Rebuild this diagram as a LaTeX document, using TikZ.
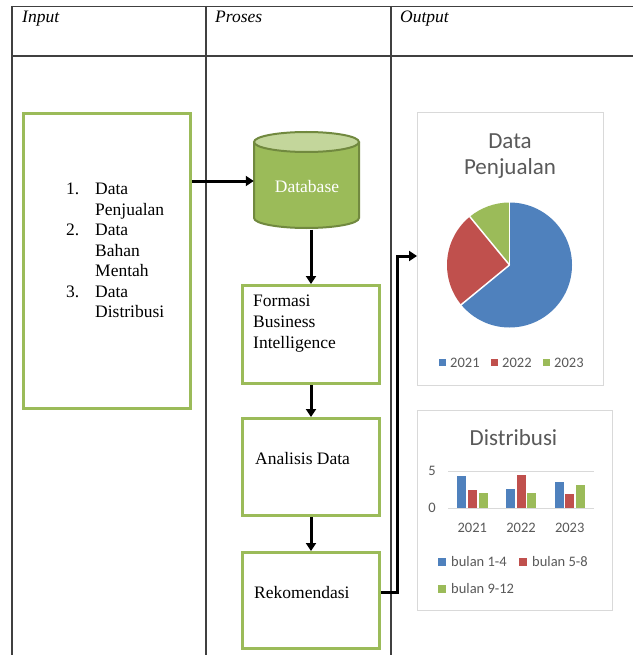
\documentclass[tikz,border=0pt]{standalone}
\usepackage{fontspec}
\setmainfont{Liberation Serif}
\newfontfamily\calfont{Carlito}
\usetikzlibrary{arrows.meta,calc}
\definecolor{gboxc}{HTML}{9BBB59}
\definecolor{dbdark}{HTML}{71893F}
\definecolor{dblight}{HTML}{C3D69B}
\definecolor{cblue}{HTML}{4F81BD}
\definecolor{cred}{HTML}{C0504D}
\definecolor{cgreen}{HTML}{9BBB59}
\definecolor{ctext}{HTML}{595959}
\definecolor{cframe}{HTML}{D9D9D9}
\definecolor{tline}{HTML}{404040}
\begin{document}
\begin{tikzpicture}[x=1pt,y=-1pt,
  tab/.style={draw=tline,line width=1.1pt},
  gbox/.style={draw=gboxc,line width=3pt,fill=white,inner sep=0pt},
  body/.style={font=\fontsize{17.5}{21}\selectfont,inner sep=0pt,text=black},
  hdr/.style={font=\fontsize{17.5}{21}\selectfont\itshape,inner sep=0pt,anchor=base west},
  arr/.style={draw=black,line width=3pt,-{Triangle[length=8pt,width=10pt]}},
  chartbox/.style={draw=cframe,line width=1pt,fill=white,inner sep=0pt},
  ctitle/.style={font=\calfont\fontsize{23}{26}\selectfont,text=ctext,inner sep=0pt,align=center},
  csmall/.style={font=\calfont\fontsize{14.5}{17}\selectfont,text=ctext,inner sep=0pt}
]
\useasboundingbox (0,0) rectangle (633,655);
\fill[white] (0,0) rectangle (633,655);
% table
\draw[tab] (12,6.5) -- (633,6.5);
\draw[tab] (12,56) -- (633,56);
\draw[tab] (12,6) -- (12,655);
\draw[tab] (206,6) -- (206,655);
\draw[tab] (391,6) -- (391,655);
\node[hdr] (hIn) at (22,23) {Input};
\node[hdr] (hPr) at (215,23) {Proses};
\node[hdr] (hOut) at (400,23) {Output};

% input box
\node[gbox,minimum width=167,minimum height=295] (inp) at (107,261) {};
\node[anchor=west,inner sep=0pt,font=\fontsize{17.5}{20.5}\selectfont] (inpT) at (66,252)
 {\begin{tabular}{@{}p{29pt}@{}l@{}}1. & Data\\ & Penjualan\\ 2. & Data\\ & Bahan\\ & Mentah\\ 3. & Data\\ & Distribusi\end{tabular}};

% database cylinder
\fill[gboxc] (254,142) -- (254,218) arc[start angle=180,end angle=0,x radius=52.5,y radius=10] -- (359,142) -- cycle;
\draw[dbdark,line width=2pt] (254,142) -- (254,218) arc[start angle=180,end angle=0,x radius=52.5,y radius=10] -- (359,142);
\draw[dbdark,line width=2pt,fill=dblight] (306.5,142) ellipse[x radius=52.5,y radius=10];
\node[minimum width=105,minimum height=97,inner sep=0pt] (db) at (306.5,181) {};
\node[body,text=white] (dbT) at (307,187) {Database};

% process boxes
\node[gbox,minimum width=137,minimum height=98] (fbi) at (311,334.5) {};
\node[body,anchor=west,align=left] (fbiT) at (253,324) {Formasi\\Business\\Intelligence};
\node[gbox,minimum width=137,minimum height=97] (ana) at (311,467) {};
\node[body,anchor=west] (anaT) at (255,459) {Analisis Data};
\node[gbox,minimum width=137,minimum height=96] (reko) at (311,600.5) {};
\node[body,anchor=west] (rekoT) at (254,592.5) {Rekomendasi};

% connectors
\draw[arr] (inp.east |- db.west) -- (db.west);
\draw[arr] (fbi.north |- db.south) -- (fbi.north);
\draw[arr] (fbi.south) -- (ana.north);
\draw[arr] (ana.south) -- (reko.north);
\coordinate (pin) at (417,256);
\draw[arr] (reko.east |- rekoT) -- ++(16.5,0) |- (pin);

% pie chart
\node[chartbox,minimum width=186,minimum height=272] (pieBox) at (510,249) {};
\node[ctitle] (pieTitle) at (510,156) {Data\\Penjualan};
\coordinate (pc) at (509.5,265);
\fill[cblue] (pc) -- ++(-90:62.5) arc[start angle=-90,end angle=140.6,radius=62.5] -- cycle;
\fill[cred] (pc) -- ++(140.6:62.5) arc[start angle=140.6,end angle=230.6,radius=62.5] -- cycle;
\fill[cgreen] (pc) -- ++(230.6:62.5) arc[start angle=230.6,end angle=270,radius=62.5] -- cycle;
\draw[white,line width=1.5pt] (pc) -- ++(-90:63);
\draw[white,line width=1.5pt] (pc) -- ++(140.6:63);
\draw[white,line width=1.5pt] (pc) -- ++(230.6:63);
\fill[cblue] (439,359) rectangle (445.5,365.5);
\node[csmall,anchor=west] (lg1) at (450,362.5) {2021};
\fill[cred] (491,359) rectangle (497.5,365.5);
\node[csmall,anchor=west] (lg2) at (502,362.5) {2022};
\fill[cgreen] (543,359) rectangle (549.5,365.5);
\node[csmall,anchor=west] (lg3) at (554,362.5) {2023};

% bar chart
\node[chartbox,minimum width=195,minimum height=200] (barBox) at (514.5,510) {};
\node[ctitle] (barTitle) at (513.5,438) {Distribusi};
\draw[cframe,line width=1pt] (448,471) -- (594,471);
\draw[cframe,line width=1pt] (448,508) -- (594,508);
\node[csmall,anchor=east] (y5) at (436,470.5) {5};
\node[csmall,anchor=east] (y0) at (436,507.5) {0};
\foreach \c/\a/\b/\g [count=\i from 0] in {2021/4.3/2.4/2.0, 2022/2.5/4.4/2.0, 2023/3.5/1.8/3.0}{
  \pgfmathsetmacro{\cx}{472.3+48.7*\i}
  \fill[cblue] (\cx-10.7-4.5,507.5) rectangle (\cx-10.7+4.5,507.5-7.4*\a);
  \fill[cred] (\cx-4.5,507.5) rectangle (\cx+4.5,507.5-7.4*\b);
  \fill[cgreen] (\cx+10.7-4.5,507.5) rectangle (\cx+10.7+4.5,507.5-7.4*\g);
  \node[csmall] (cat\i) at (\cx,528) {\c};
}
\fill[cblue] (438,557.5) rectangle (446,565.5);
\node[csmall,anchor=west] (bl1) at (451,561.5) {bulan 1-4};
\fill[cred] (519,557.5) rectangle (527,565.5);
\node[csmall,anchor=west] (bl2) at (532,561.5) {bulan 5-8};
\fill[cgreen] (438,584.5) rectangle (446,592.5);
\node[csmall,anchor=west] (bl3) at (451,588.5) {bulan 9-12};
\end{tikzpicture}
\end{document}
